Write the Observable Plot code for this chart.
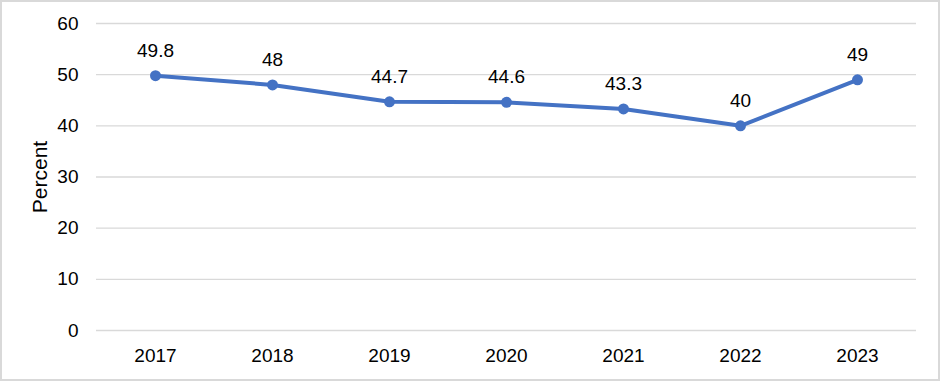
<!DOCTYPE html>
<html><head><meta charset="utf-8">
<script src="https://cdn.jsdelivr.net/npm/d3@7"></script>
<script src="https://cdn.jsdelivr.net/npm/@observablehq/plot@0.6"></script>
<style>
html,body{margin:0;padding:0;background:#fff;}
#chart{width:940px;height:381px;box-sizing:border-box;border:2px solid #d9d9d9;overflow:hidden;background:#fff;}
#chart svg{display:block;}
</style></head><body><div id="chart"></div>
<script>
const years = ["2017", "2018", "2019", "2020", "2021", "2022", "2023"];
const values = [49.8, 48, 44.7, 44.6, 43.3, 40, 49];
const valueLabels = ["49.8", "48", "44.7", "44.6", "43.3", "40", "49"];
const yTicks = [0, 10, 20, 30, 40, 50, 60];
const yLabel = "Percent";

const data = years.map((y, i) => ({year: y, value: values[i], label: valueLabels[i]}));

const plot = Plot.plot({
  width: 936,
  height: 377,
  marginLeft: 94,
  marginRight: 22,
  marginTop: 21,
  marginBottom: 49,
  style: {fontFamily: "Liberation Sans, Arial, sans-serif", background: "#fff", color: "#000"},
  x: {type: "point", domain: years, padding: 0.5, axis: null},
  y: {domain: [0, 60], axis: null},
  marks: [
    Plot.ruleY(yTicks, {stroke: "#d9d9d9", strokeWidth: 1.3}),
    Plot.text(yTicks, {y: d => d, text: d => String(d), frameAnchor: "left", dx: -18, textAnchor: "end", fontSize: 19, fill: "#000"}),
    Plot.text(years, {x: d => d, text: d => d, frameAnchor: "bottom", dy: 25, lineAnchor: "middle", fontSize: 19, fill: "#000"}),
    Plot.text([yLabel], {text: d => d, frameAnchor: "left", dx: -56, rotate: -90, textAnchor: "middle", lineAnchor: "middle", fontSize: 21, fill: "#000"}),
    Plot.line(data, {x: "year", y: "value", stroke: "#4472c4", strokeWidth: 4}),
    Plot.dot(data, {x: "year", y: "value", r: 5.5, fill: "#4472c4", stroke: "none"}),
    Plot.text(data, {x: "year", y: "value", text: "label", dy: -25, fontSize: 19, fill: "#000"})
  ]
});
document.getElementById("chart").appendChild(plot);
</script>
</body></html>
